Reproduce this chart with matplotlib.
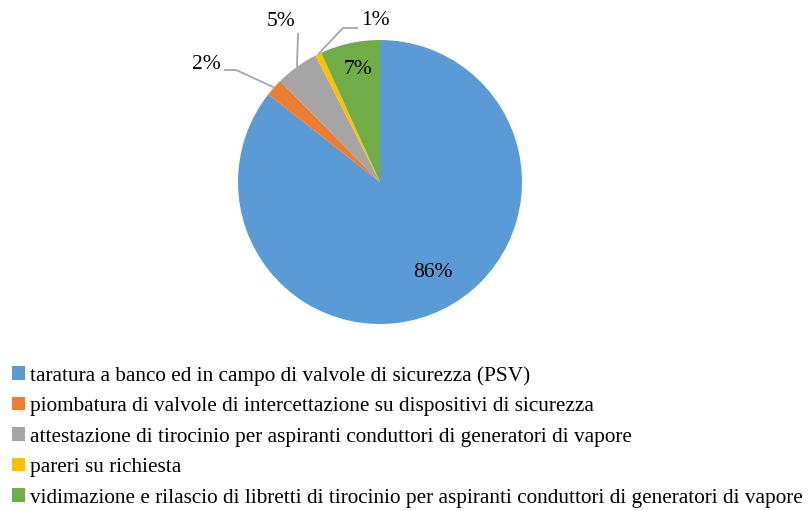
import numpy as np
import matplotlib.pyplot as plt

labels = [
    "taratura a banco ed in campo di valvole di sicurezza (PSV)",
    "piombatura di valvole di intercettazione su dispositivi di sicurezza",
    "attestazione di tirocinio per aspiranti conduttori di generatori di vapore",
    "pareri su richiesta",
    "vidimazione e rilascio di libretti di tirocinio per aspiranti conduttori di generatori di vapore",
]
values = [85.6, 2.0, 4.9, 0.7, 6.8]
pct_labels = ["86%", "2%", "5%", "1%", "7%"]
colors = ["#5B9BD5", "#ED7D31", "#A5A5A5", "#FFC000", "#70AD47"]

plt.rcParams['font.family'] = ['Liberation Serif', 'DejaVu Serif']

fig = plt.figure(figsize=(8.09, 5.11), dpi=100)
ax = fig.add_axes([238 / 809, 187 / 511, 284 / 809, 284 / 511])

wedges, _ = ax.pie(values, colors=colors, startangle=90, counterclock=False,
                   radius=1.0, wedgeprops=dict(linewidth=0))
ax.set_xlim(-1, 1)
ax.set_ylim(-1, 1)
ax.set_aspect('equal')
ax.axis('off')

# outside labels: elbow, start of line, text position (data units)
outside = {
    1: [(-1.014, 0.789), (-1.099, 0.789), (-1.22, 0.83)],
    2: [(-0.577, 1.049), (-0.577, 1.049), (-0.70, 1.13)],
    3: [(-0.261, 1.085), (-0.155, 1.085), (-0.03, 1.14)],
}
leader = "#A6A6A6"
for i, w in enumerate(wedges):
    mid = np.deg2rad((w.theta1 + w.theta2) / 2)
    if i == 0:
        ax.text(0.373, -0.634, pct_labels[i], ha='center', va='center', fontsize=15.5)
    elif i == 4:
        ax.text(-0.155, 0.789, pct_labels[i], ha='center', va='center', fontsize=15.5)
    else:
        p0 = (np.cos(mid), np.sin(mid))
        (ex, ey), (sx, sy), (tx, ty) = outside[i]
        ax.plot([p0[0], ex, sx], [p0[1], ey, sy], color=leader, lw=1.3,
                clip_on=False, solid_capstyle='butt')
        ax.text(tx, ty, pct_labels[i], ha='center', va='center', fontsize=15.5,
                clip_on=False)

leg = fig.legend(wedges, labels, loc='upper left', bbox_to_anchor=(0.015, 1 - 366 / 511),
                 frameon=False, fontsize=15.3, handlelength=0.6, handleheight=0.6,
                 handletextpad=0.25, labelspacing=0.53, borderpad=0, borderaxespad=0)

fig.savefig("out.png", dpi=100)
